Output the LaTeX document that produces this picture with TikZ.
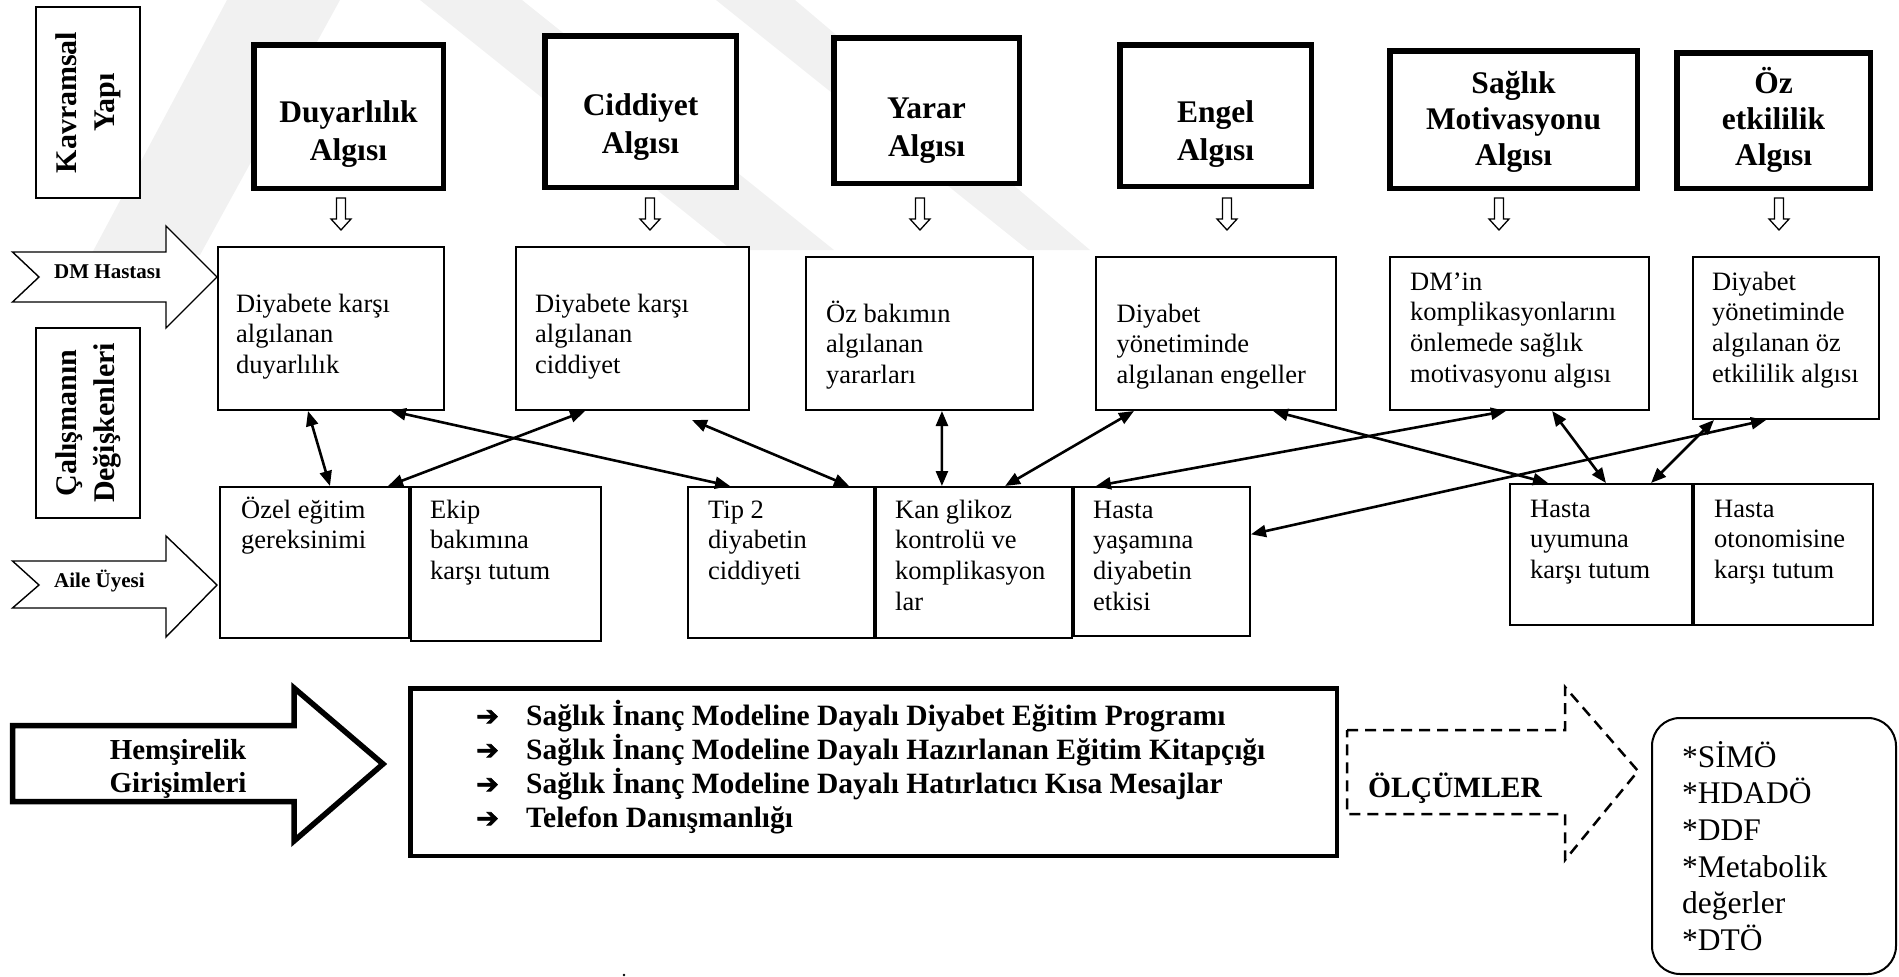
\documentclass[tikz,border=0pt]{standalone}
\usepackage{fontspec}
\setmainfont{Liberation Serif}
\newfontfamily\djv{DejaVu Sans}[FakeBold=2.5]
\usetikzlibrary{arrows.meta,calc}

% invisible strut fixing the height of a first line
\newcommand\st[1]{\rule{0pt}{#1}}
% bullet arrow in front of each intervention
\newcommand\blt{\makebox[50pt][l]{{\djv\bfseries\fontsize{27}{27}\selectfont ➔}}}

\definecolor{wmark}{gray}{0.945}

\tikzset{
  thinbox/.style={draw, fill=white, line width=1.6pt, inner sep=0pt, rectangle},
  thickbox/.style={draw, fill=white, line width=5.5pt, inner sep=0pt, rectangle},
  toplab/.style={font=\fontsize{31.5}{38}\selectfont\bfseries, align=center, inner sep=0pt, anchor=north},
  body/.style={font=\fontsize{26.5}{30.7}\selectfont, align=left, inner sep=0pt, anchor=north west},
  rotlab/.style={font=\fontsize{30}{38}\selectfont\bfseries, align=center, inner sep=0pt, rotate=90},
  sidelab/.style={font=\fontsize{21}{25}\selectfont\bfseries, inner sep=0pt, anchor=base west},
  conn/.style={line width=2.6pt, {Triangle[length=15pt,width=12pt]}-{Triangle[length=15pt,width=12pt]}},
  hollow/.style={draw, line width=1.3pt, fill=white, line join=miter},
  bigarrow/.style={draw, fill=white, line join=miter},
}

% thin / thick framed boxes given by their outer edges: name, x0, y0, x1, y1
\newcommand\tbox[5]{\node[thinbox, minimum width={(#4-#2-1.6)*1pt}, minimum height={(#5-#3-1.6)*1pt}] (#1) at ({(#2+#4)/2},{(#3+#5)/2}) {};}
\newcommand\kbox[5]{\node[thickbox, minimum width={(#4-#2-5.5)*1pt}, minimum height={(#5-#3-5.5)*1pt}] (#1) at ({(#2+#4)/2},{(#3+#5)/2}) {};}

\begin{document}
\begin{tikzpicture}[x=1pt,y=-1pt]
\useasboundingbox (0,0) rectangle (1899,977);

% faint background bands
\fill[wmark] (227,0) -- (340,0) -- (200,255) -- (91,255) -- cycle;
\fill[wmark] (420,0) -- (522,0) -- (834,250) -- (732,250) -- cycle;
\fill[wmark] (716,0) -- (795,0) -- (1090,250) -- (1028,250) -- cycle;

% ---- left column labels ----
\tbox{kv}{35}{6}{141}{199}
\node[rotlab] (kvt) at (kv.center) {Kavramsal\\Yapı};
\tbox{cd}{35}{327}{141}{519}
\node[rotlab] (cdt) at (cd.center) {Çalışmanın\\Değişkenleri};

% side arrows
\draw[bigarrow, line width=1.4pt] (12.5,252) -- (166,252) -- (166,226) -- (217,277) -- (166,328) -- (166,302) -- (12.5,302) -- (39,277) -- cycle;
\node[sidelab] (dm) at (54,278) {DM Hastası};
\draw[bigarrow, line width=1.4pt] (12.5,561) -- (166,561) -- (166,536) -- (217,585) -- (166,637) -- (166,608) -- (12.5,608) -- (39,585) -- cycle;
\node[sidelab] (au) at (54,587) {Aile Üyesi};

% ---- model concepts ----
\kbox{T1}{251}{42}{446}{191}
\kbox{T2}{542}{33}{739}{190}
\kbox{T3}{831}{35}{1022}{186}
\kbox{T4}{1117}{42}{1314}{189}
\kbox{T5}{1387}{48}{1640}{191}
\kbox{T6}{1674}{50}{1873}{191}
\node[toplab] (T1t) at (348.5,92) {\st{30pt}Duyarlılık\\Algısı};
\node[toplab] (T2t) at (640.5,85) {\st{30pt}Ciddiyet\\Algısı};
\node[toplab] (T3t) at (926.5,88) {\st{30pt}Yarar\\Algısı};
\node[toplab] (T4t) at (1215.5,92) {\st{30pt}Engel\\Algısı};
\node[toplab, font=\fontsize{31.5}{36}\selectfont\bfseries] (T5t) at (1513.5,63) {\st{30pt}Sağlık\\Motivasyonu\\Algısı};
\node[toplab, font=\fontsize{31.5}{36}\selectfont\bfseries] (T6t) at (1773.5,63) {\st{30pt}Öz\\etkililik\\Algısı};

% hollow down arrows
\foreach \cx in {341,650,920,1227,1499,1779}{
  \draw[hollow] ({\cx-4.5},198) -- ({\cx+4.5},198) -- ({\cx+4.5},219) -- ({\cx+10},219) -- (\cx,230) -- ({\cx-10},219) -- ({\cx-4.5},219) -- cycle;
}

% ---- perceived variables ----
\tbox{A}{217}{246}{445}{411}
\tbox{B}{515}{246}{750}{411}
\tbox{C}{805}{256}{1034}{411}
\tbox{D}{1095}{256}{1337}{411}
\tbox{E}{1389}{256}{1650}{411}
\tbox{F}{1692}{256}{1880}{420}
\node[body] (At) at (236,287) {\st{25pt}Diyabete karşı\\algılanan\\duyarlılık};
\node[body] (Bt) at (535,287) {\st{25pt}Diyabete karşı\\algılanan\\ciddiyet};
\node[body] (Ct) at (826,297) {\st{25pt}Öz bakımın\\algılanan\\yararları};
\node[body] (Dt) at (1116.5,297) {\st{25pt}Diyabet\\yönetiminde\\algılanan engeller};
\node[body] (Et) at (1410,265) {\st{25pt}DM’in\\komplikasyonlarını\\önlemede sağlık\\motivasyonu algısı};
\node[body] (Ft) at (1712,265) {\st{25pt}Diyabet\\yönetiminde\\algılanan öz\\etkililik algısı};

% ---- study variables ----
\tbox{G}{219}{486}{410}{639}
\tbox{H}{410}{486}{602}{642}
\tbox{I}{687}{486}{875}{639}
\tbox{J}{875}{486}{1073}{639}
\tbox{K}{1073}{486}{1251}{637}
\tbox{L}{1509}{483}{1693}{626}
\tbox{M}{1693}{483}{1874}{626}
\node[body] (Gt) at (241,493) {\st{25pt}Özel eğitim\\gereksinimi};
\node[body] (Ht) at (430,493) {\st{25pt}Ekip\\bakımına\\karşı tutum};
\node[body] (It) at (708,493) {\st{25pt}Tip 2\\diyabetin\\ciddiyeti};
\node[body] (Jt) at (895,493) {\st{25pt}Kan glikoz\\kontrolü ve\\komplikasyon\\lar};
\node[body] (Kt) at (1093,493) {\st{25pt}Hasta\\yaşamına\\diyabetin\\etkisi};
\node[body] (Lt) at (1530,492) {\st{25pt}Hasta\\uyumuna\\karşı tutum};
\node[body] (Mt) at (1714,492) {\st{25pt}Hasta\\otonomisine\\karşı tutum};

% ---- relations ----
\draw[conn] ($(A.south west)!0.399!(A.south east)$) -- ($(G.north west)!0.581!(G.north east)$);
\draw[conn] ($(B.south west)!0.298!(B.south east)$) -- ($(G.north west)!0.885!(G.north east)$);
\draw[conn] ($(A.south west)!0.763!(A.south east)$) -- ($(I.north west)!0.229!(I.north east)$);
\draw[conn] ($(B.south west)!0.753!(B.south east)+(0,9)$) -- ($(I.north west)!0.862!(I.north east)$);
\draw[conn] ($(C.south west)!0.598!(C.south east)$) -- ($(J.north west)!0.338!(J.north east)$);
\draw[conn] ($(D.south west)!0.161!(D.south east)$) -- ($(J.north west)!0.657!(J.north east)$);
\draw[conn] ($(D.south west)!0.736!(D.south east)$) -- ($(L.north west)!0.212!(L.north east)$);
\draw[conn] ($(E.south west)!0.448!(E.south east)$) -- ($(K.north west)!0.129!(K.north east)$);
\draw[conn] ($(E.south west)!0.625!(E.south east)$) -- ($(L.north west)!0.527!(L.north east)$);
\draw[conn] ($(F.south west)!0.394!(F.south east)$) -- ($(K.north east)!0.32!(K.south east)$);
\draw[conn] ($(F.south west)!0.117!(F.south east)$) -- ($(L.north west)!0.772!(L.north east)$);

% ---- nursing interventions ----
\draw[bigarrow, line width=5.5pt] (12.5,725.5) -- (294,725.5) -- (294,688) -- (383,764) -- (294,841) -- (294,801.5) -- (12.5,801.5) -- cycle;
\node[font=\fontsize{29}{33}\selectfont\bfseries, align=center, inner sep=0pt, anchor=north] (hg) at (178,731) {\st{28pt}Hemşirelik\\Girişimleri};

\node[draw, line width=4.5pt, inner sep=0pt, minimum width=926.5pt, minimum height=167.5pt] (prog) at (873.5,772) {};
\node[font=\fontsize{29.5}{34}\selectfont\bfseries, align=left, inner sep=0pt, anchor=north west] (progt) at (476,697) {%
\st{28pt}\blt Sağlık İnanç Modeline Dayalı Diyabet Eğitim Programı\\
\blt Sağlık İnanç Modeline Dayalı Hazırlanan Eğitim Kitapçığı\\
\blt Sağlık İnanç Modeline Dayalı Hatırlatıcı Kısa Mesajlar\\
\blt Telefon Danışmanlığı};

% ---- measurements ----
\draw[line width=2.5pt, dash pattern=on 11pt off 7pt, line join=miter] (1347,730) -- (1565,730) -- (1565,687) -- (1638,771) -- (1565,860) -- (1565,814) -- (1347,814) -- cycle;
\node[font=\fontsize{29.5}{34}\selectfont\bfseries, inner sep=0pt, anchor=base west] (olc) at (1368,797) {ÖLÇÜMLER};

\node[draw, line width=2pt, rounded corners=28pt, inner sep=0pt, minimum width=244pt, minimum height=256pt] (res) at (1774,846) {};
\node[font=\fontsize{31.5}{36.6}\selectfont, align=left, inner sep=0pt, anchor=north west] (rest) at (1682,738) {\st{29pt}*SİMÖ\\*HDADÖ\\*DDF\\*Metabolik\\değerler\\*DTÖ};

\fill (624,975) circle (1.3);
\end{tikzpicture}
\end{document}
